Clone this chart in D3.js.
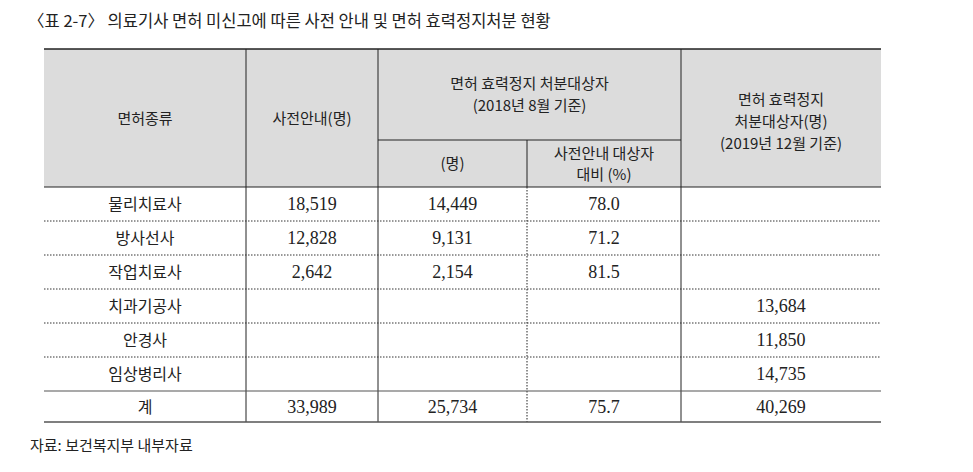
<!DOCTYPE html><html><head><meta charset="utf-8"><script src="https://d3js.org/d3.v7.min.js"></script>
<style>body{margin:0;background:#fff}</style></head><body><svg id="c" width="973" height="472"></svg><script>
const title="〈표 2-7〉 의료기사 면허 미신고에 따른 사전 안내 및 면허 효력정지처분 현황";
const source="자료: 보건복지부 내부자료";
const categories=["물리치료사","방사선사","작업치료사","치과기공사","안경사","임상병리사","계"];
const notified=["18,519","12,828","2,642","","","","33,989"];
const suspended2018=["14,449","9,131","2,154","","","","25,734"];
const ratio=["78.0","71.2","81.5","","","","75.7"];
const suspended2019=["","","","13,684","11,850","14,735","40,269"];
(function(){
const svg=d3.select("#c");
const K="'Noto Sans CJK KR',sans-serif", S="'Liberation Serif','DejaVu Serif',serif";
const xs=[44,246,378,527,681,881];
const tY=49,sub=140,hb=187,rowH=34;
const y=d3.scaleLinear().domain([0,6]).range([hb,hb+6*rowH]);
svg.append("text").attr("x",28).attr("y",27).attr("font-family",K).attr("font-size",16.5).attr("fill","#222").text(title);
svg.append("rect").attr("x",xs[0]).attr("y",tY).attr("width",xs[5]-xs[0]).attr("height",hb-tY).attr("fill","#dcdcdc");
const L=(x1,y1,x2,y2,w,d,c)=>svg.append("line").attr("x1",x1).attr("y1",y1).attr("x2",x2).attr("y2",y2).attr("stroke",c||"#222").attr("stroke-width",w||1).attr("stroke-dasharray",d||null);
L(xs[0],tY,xs[5],tY,1.5);
L(xs[0],hb,xs[5],hb,1);
L(xs[2],sub,xs[4],sub,1);
const bot=y(6)+31;
[1,2,4].forEach(i=>L(xs[i],tY,xs[i],bot,1));
L(xs[3],sub,xs[3],hb,1);
L(xs[3],hb,xs[3],bot,1,"1.5,1.5");
for(let i=1;i<6;i++)L(xs[0],y(i),xs[5],y(i),1,"1.5,1.5","#333");
L(xs[0],y(6),xs[5],y(6),1.2,null,"#555");
L(xs[0],bot,xs[5],bot,1.5,null,"#555");
const T=(x,yy,t,f,s)=>svg.append("text").attr("x",x).attr("y",yy).attr("text-anchor","middle").attr("font-family",f).attr("font-size",s).attr("fill","#222").text(t);
const mid=i=>(xs[i]+xs[i+1])/2;
T(mid(0),124,"면허종류",K,15);T(mid(1),124,"사전안내(명)",K,15);
T((xs[2]+xs[4])/2,89,"면허 효력정지 처분대상자",K,15);T((xs[2]+xs[4])/2,111,"(2018년 8월 기준)",K,15);
T(mid(2),169,"(명)",K,15);T(mid(3),159,"사전안내 대상자",K,15);T(mid(3),180,"대비 (%)",K,15);
T(mid(4),105,"면허 효력정지",K,15);T(mid(4),127,"처분대상자(명)",K,15);T(mid(4),149,"(2019년 12월 기준)",K,15);
const cols=[categories,notified,suspended2018,ratio,suspended2019];
categories.forEach((c,r)=>{const yy=r<6?y(r)+23:y(6)+22;
cols.forEach((a,i)=>{if(a[r])T(mid(i),yy,a[r],i==0?K:S,i==0?16:18);});});
svg.append("text").attr("x",30).attr("y",451).attr("font-family",K).attr("font-size",15).attr("fill","#222").text(source);
})();
</script></body></html>
